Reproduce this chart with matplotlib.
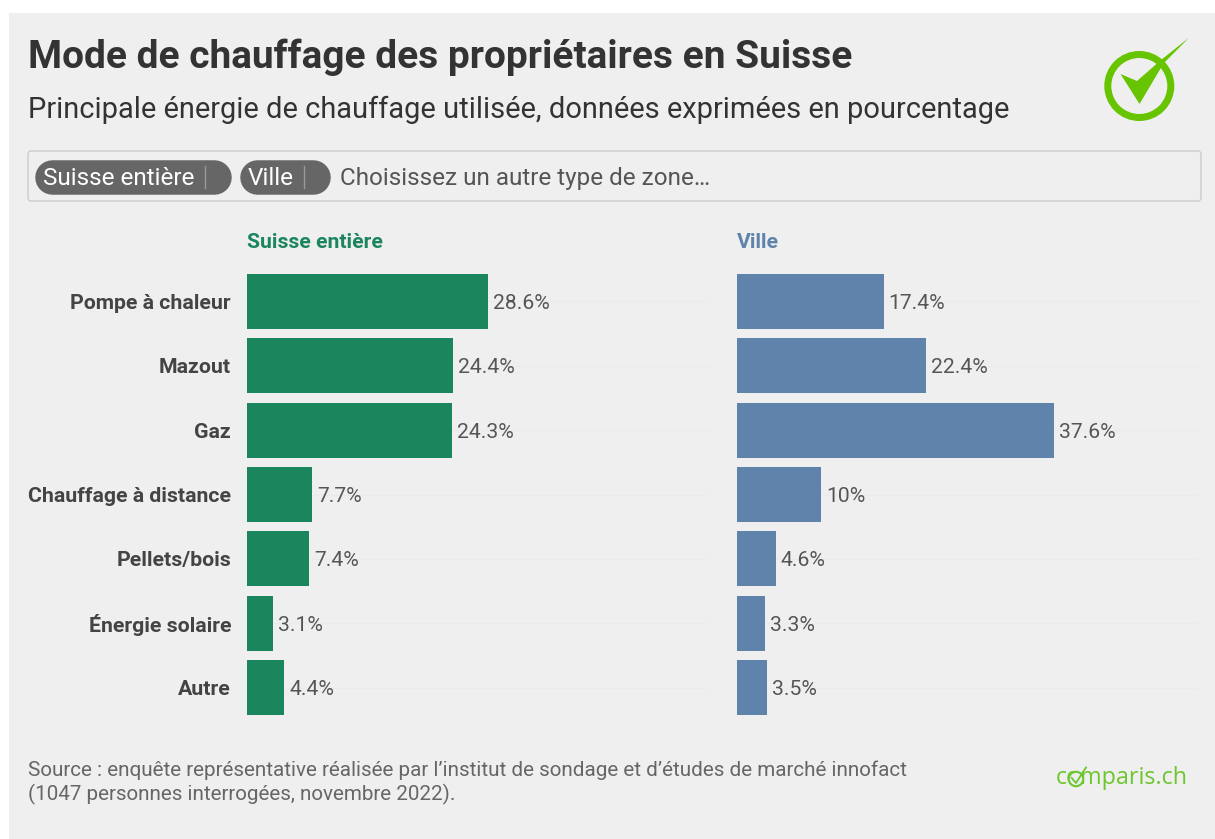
import matplotlib
matplotlib.use("Agg")
import matplotlib.pyplot as plt
from matplotlib.patches import FancyBboxPatch, Polygon, Circle, Rectangle

plt.rcParams['font.family'] = ['Roboto', 'DejaVu Sans']

categories = ["Pompe à chaleur", "Mazout", "Gaz", "Chauffage à distance", "Pellets/bois", "Énergie solaire", "Autre"]
suisse_values = [28.6, 24.4, 24.3, 7.7, 7.4, 3.1, 4.4]
ville_values = [17.4, 22.4, 37.6, 10, 4.6, 3.3, 3.5]
value_labels_suisse = ["28.6%", "24.4%", "24.3%", "7.7%", "7.4%", "3.1%", "4.4%"]
value_labels_ville = ["17.4%", "22.4%", "37.6%", "10%", "4.6%", "3.3%", "3.5%"]

W, H = 1215, 839
BG = "#efefef"
GREEN = "#1b855e"
BLUE = "#5f83ab"
DARK = "#333333"
MID = "#555555"
LIME = "#66c400"
px = 0.72

fig = plt.figure(figsize=(W/100, H/100), dpi=100, facecolor="white")
ov = fig.add_axes([0, 0, 1, 1], zorder=0)
ov.set_xlim(0, W); ov.set_ylim(H, 0); ov.axis("off")
ov.add_patch(Rectangle((9, 13), W-9, H-13, fc=BG, ec="none"))

# headings
ov.text(28, 57.5, "Mode de chauffage des propriétaires en Suisse", fontsize=38.85*px, fontweight="bold", color=DARK, va="center", ha="left")
ov.text(28, 109.5, "Principale énergie de chauffage utilisée, données exprimées en pourcentage", fontsize=29.05*px, color=DARK, va="center", ha="left")

# selector box
ov.add_patch(FancyBboxPatch((28, 151), 1173, 50, boxstyle="round,pad=0,rounding_size=3", fc=BG, ec="#c8c8c8", lw=0.9))
for x0, x1 in [(35, 231), (240, 330)]:
    ov.plot([x0+17, x1-17], [176.5, 176.5], color="#666666", lw=34.5*px, solid_capstyle="round")
ov.text(43, 178.5, "Suisse entière", fontsize=24.2*px, color="white", va="center")
ov.text(248, 178.5, "Ville", fontsize=24.2*px, color="white", va="center")
ov.plot([204.5, 204.5], [166, 188], color="#999999", lw=1)
ov.plot([303.5, 303.5], [166, 188], color="#999999", lw=1)
ov.text(340, 179, "Choisissez un autre type de zone…", fontsize=24.3*px, color=MID, va="center")

# logo
ov.add_patch(Circle((1139.3, 86), 31.5, fc="none", ec=LIME, lw=7*px))
ov.add_patch(Polygon([(1120.5, 74), (1137, 81), (1161, 60), (1189, 37.7), (1163.5, 63.5), (1139.5, 104)], closed=True, fc=LIME, ec="none"))

# footer
ov.text(28, 770, "Source : enquête représentative réalisée par l’institut de sondage et d’études de marché innofact", fontsize=20.66*px, color="#666666", va="center")
ov.text(28, 794, "(1047 personnes interrogées, novembre 2022).", fontsize=20.66*px, color="#666666", va="center")
ov.text(1188, 778, "comparis.ch", fontsize=23.2*px, color="#6cc62d", ha="right", va="center", family="Open Sans", zorder=3)
ov.add_patch(Circle((1076, 779), 7.2, fc=BG, ec="#6cc62d", lw=1.5, zorder=4))
ov.plot([1071.7, 1076, 1086], [778, 783, 767.5], color="#6cc62d", lw=1.3, zorder=5)

# panels
def panel(left, title, values, labels, color, show_cats):
    width = 461
    top, bottom = 269.3, 719.7
    ax = fig.add_axes([left/W, 1-bottom/H, width/W, (bottom-top)/H], zorder=1)
    ax.patch.set_alpha(0)
    y = list(range(len(values)))
    for yy in y:
        ax.axhline(yy, color="#ebebeb", lw=1, zorder=0)
    ax.barh(y, values, height=0.855, color=color, zorder=2)
    ax.set_xlim(0, width/8.43)
    ax.set_ylim(len(values)-0.5, -0.5)
    ax.set_xticks([])
    for s in ax.spines.values():
        s.set_visible(False)
    if show_cats:
        ax.set_yticks(y, categories, fontsize=21.3*px, fontweight="bold", color="#444444")
        ax.tick_params(axis="y", length=0, pad=11.5)
    else:
        ax.set_yticks([])
    for yy, v, lab in zip(y, values, labels):
        ax.annotate(lab, (v, yy), xytext=(3.6, -1.4), textcoords="offset points", va="center", ha="left",
                    fontsize=21.2*px, color=MID)
    ov.text(left, 242.5, title, fontsize=21.2*px, fontweight="bold", color=color, va="center", ha="left")

panel(247, "Suisse entière", suisse_values, value_labels_suisse, GREEN, True)
panel(737, "Ville", ville_values, value_labels_ville, BLUE, False)

fig.savefig("out.png", dpi=100, facecolor="white")
